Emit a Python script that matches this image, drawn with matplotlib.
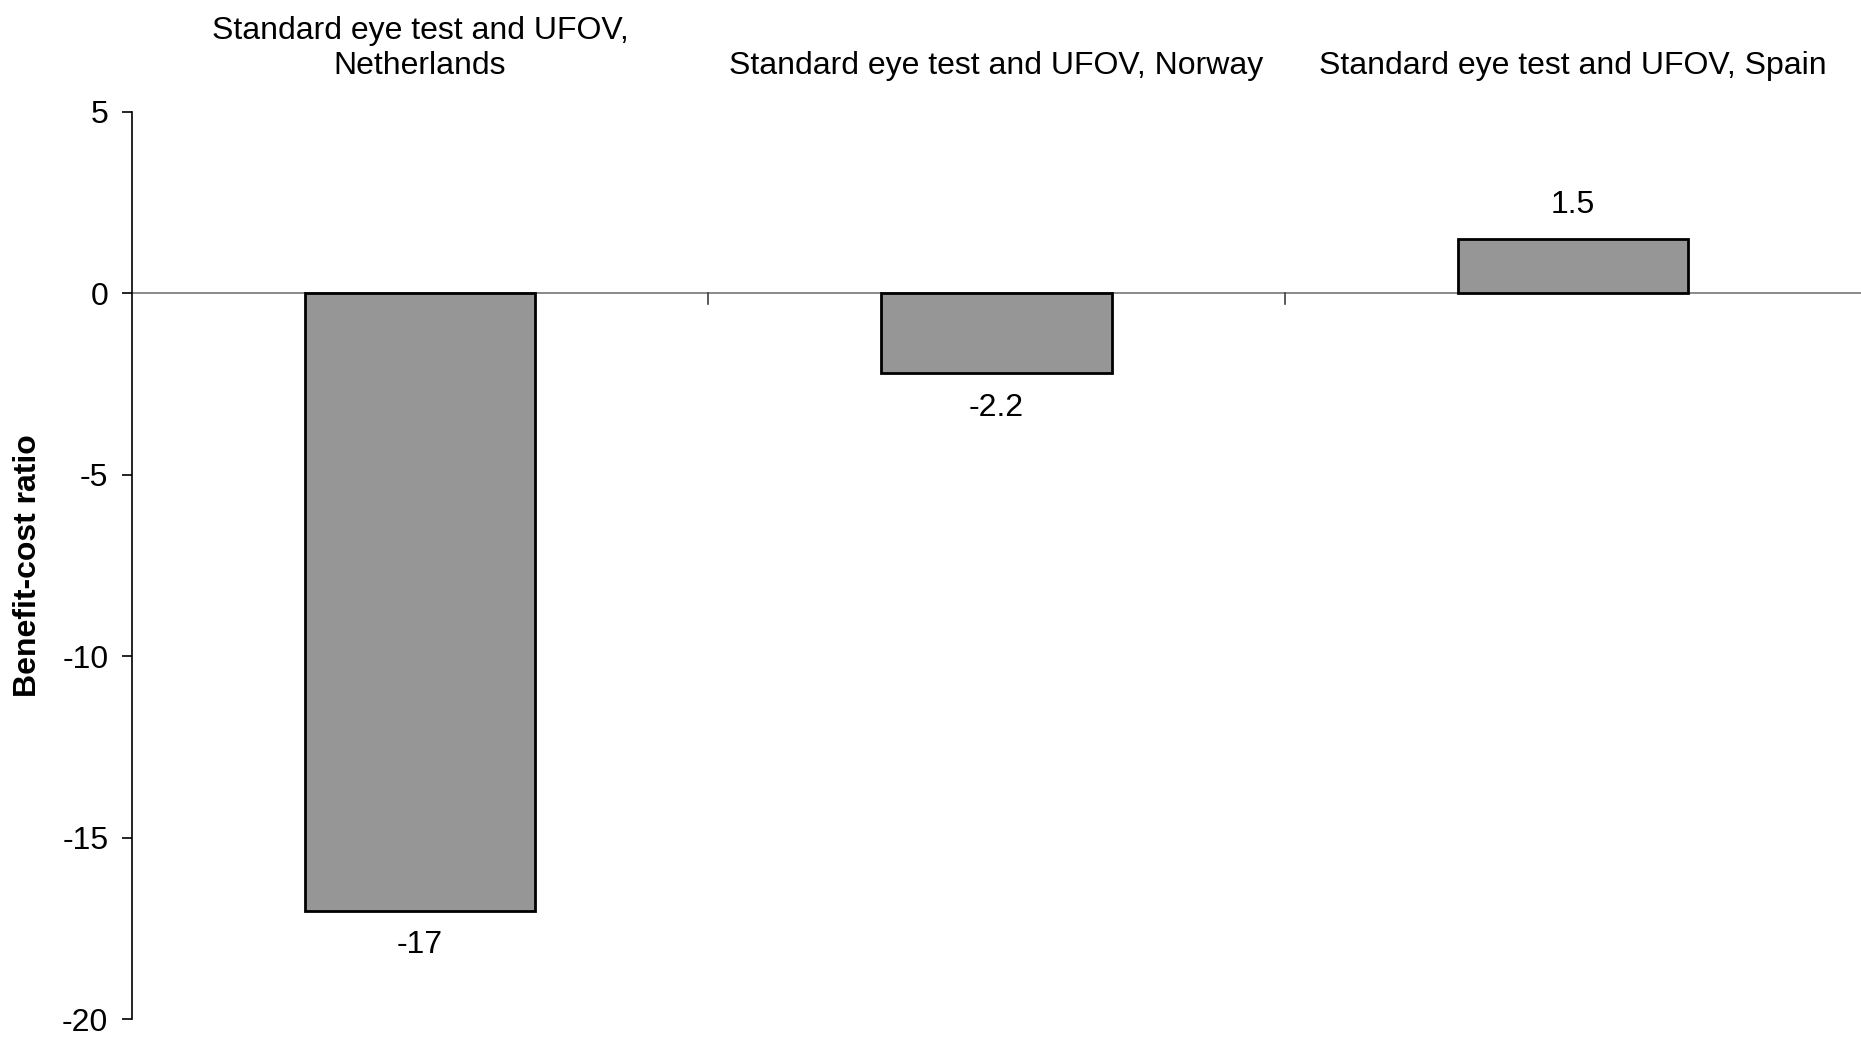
import matplotlib
matplotlib.use('Agg')
import matplotlib.pyplot as plt

plt.rcParams['font.family'] = ['Liberation Sans', 'DejaVu Sans']
plt.rcParams['axes.unicode_minus'] = False

categories = ['Standard eye test and UFOV,\nNetherlands',
              'Standard eye test and UFOV, Norway',
              'Standard eye test and UFOV, Spain']
ratios = [-17, -2.2, 1.5]
value_labels = ['-17', '-2.2', '1.5']
yticks = [5, 0, -5, -10, -15, -20]

fig = plt.figure(figsize=(18.61, 10.39), dpi=100)
ax = fig.add_axes([0.0709, 0.0188, 0.9291, 0.8738])

x = [i + 0.5 for i in range(len(ratios))]
ax.bar(x, ratios, width=0.4, color='#969696', edgecolor='black', linewidth=2, zorder=3)

ax.set_xlim(0, len(ratios))
ax.set_ylim(-20, 5)

# value labels
for xi, v, lab in zip(x, ratios, value_labels):
    off = -25 if v < 0 else 24
    ax.annotate(lab, (xi, v), xytext=(0, off), textcoords='offset points',
                ha='center', va='center', fontsize=23)

# category labels above the plot
for xi, c in zip(x, categories):
    ax.annotate(c, (xi, 1.0), xycoords=ax.get_xaxis_transform(), xytext=(0, 27),
                textcoords='offset points', ha='center', va='baseline',
                fontsize=23, linespacing=1.2)

# zero line with category tick marks
ax.axhline(0, color='#808080', linewidth=1.3, zorder=2)
for b in range(1, len(ratios)):
    ax.plot([b, b], [0, -0.3], color='#404040', linewidth=1.2, zorder=2)

for s in ['top', 'right', 'bottom']:
    ax.spines[s].set_visible(False)
ax.spines['left'].set_linewidth(1.2)
ax.set_xticks([])
ax.set_yticks(yticks)
ax.set_yticklabels([str(t) for t in yticks])
ax.tick_params(axis='y', labelsize=23, length=7, width=1.2, pad=10)
ax.set_ylabel('Benefit-cost ratio', fontsize=23, fontweight='bold', labelpad=14)

fig.savefig('out.png', dpi=100)
